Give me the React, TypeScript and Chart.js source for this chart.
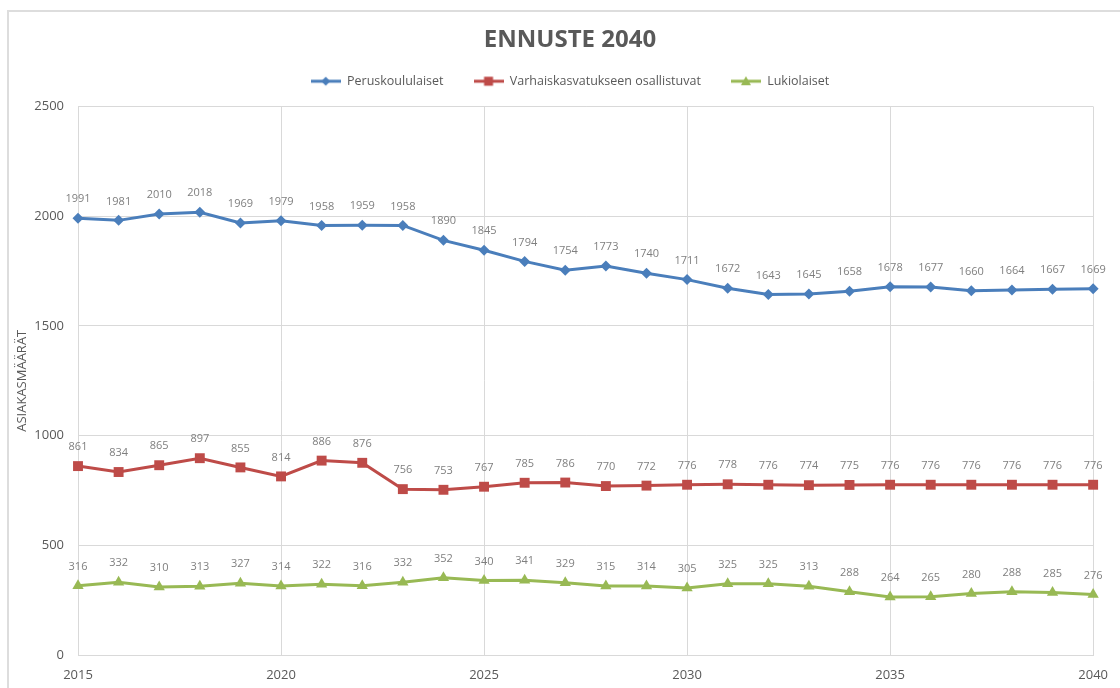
import React, { useEffect, useRef } from 'react';
import { Chart, registerables } from 'chart.js';

Chart.register(...registerables);

const chartTitle = 'ENNUSTE 2040';
const yAxisTitle = 'ASIAKASMÄÄRÄT';
const seriesNames = ['Peruskoululaiset', 'Varhaiskasvatukseen osallistuvat', 'Lukiolaiset'];
const years = [2015, 2016, 2017, 2018, 2019, 2020, 2021, 2022, 2023, 2024, 2025, 2026, 2027, 2028, 2029, 2030, 2031, 2032, 2033, 2034, 2035, 2036, 2037, 2038, 2039, 2040];
const peruskoululaiset = [1991, 1981, 2010, 2018, 1969, 1979, 1958, 1959, 1958, 1890, 1845, 1794, 1754, 1773, 1740, 1711, 1672, 1643, 1645, 1658, 1678, 1677, 1660, 1664, 1667, 1669];
const varhaiskasvatus = [861, 834, 865, 897, 855, 814, 886, 876, 756, 753, 767, 785, 786, 770, 772, 776, 778, 776, 774, 775, 776, 776, 776, 776, 776, 776];
const lukiolaiset = [316, 332, 310, 313, 327, 314, 322, 316, 332, 352, 340, 341, 329, 315, 314, 305, 325, 325, 313, 288, 264, 265, 280, 288, 285, 276];
const xTickValues = [2015, 2020, 2025, 2030, 2035, 2040];
const yTickValues = [0, 500, 1000, 1500, 2000, 2500];

const BLUE = '#4A7EBB';
const RED = '#BE4B48';
const GREEN = '#98B954';

function makeIcon(color: string, kind: string) {
  const c = document.createElement('canvas');
  c.width = 30;
  c.height = 14;
  const ctx = c.getContext('2d')!;
  ctx.strokeStyle = color;
  ctx.lineWidth = 3;
  ctx.beginPath();
  ctx.moveTo(0, 7);
  ctx.lineTo(30, 7);
  ctx.stroke();
  ctx.fillStyle = color;
  ctx.beginPath();
  if (kind === 'diamond') {
    ctx.moveTo(15, 2.5);
    ctx.lineTo(19.5, 7);
    ctx.lineTo(15, 11.5);
    ctx.lineTo(10.5, 7);
  } else if (kind === 'square') {
    ctx.rect(10.5, 2.5, 9, 9);
  } else {
    ctx.moveTo(15, 2);
    ctx.lineTo(20, 11);
    ctx.lineTo(10, 11);
  }
  ctx.closePath();
  ctx.fill();
  return c;
}

const pointLabelPlugin = {
  id: 'pointLabels',
  afterDatasetsDraw(chart: any) {
    const ctx = chart.ctx;
    ctx.save();
    ctx.font = '11px "Open Sans"';
    ctx.fillStyle = '#7F7F7F';
    ctx.textAlign = 'center';
    ctx.textBaseline = 'middle';
    chart.data.datasets.forEach((ds: any, i: number) => {
      const meta = chart.getDatasetMeta(i);
      meta.data.forEach((pt: any, j: number) => {
        ctx.fillText(String(ds.data[j].y), pt.x, pt.y - 19);
      });
    });
    ctx.restore();
  },
};

const framePlugin = {
  id: 'frame',
  beforeDraw(chart: any) {
    const ctx = chart.ctx;
    ctx.save();
    ctx.fillStyle = '#FFFFFF';
    ctx.fillRect(0, 0, chart.width, chart.height);
    ctx.strokeStyle = '#DDDDDD';
    ctx.lineWidth = 2;
    ctx.strokeRect(8, 11, chart.width + 20, chart.height + 20);
    ctx.restore();
  },
};

const headerShift = 21;

const legendSpacer = {
  id: 'legendSpacer',
  afterInit(chart: any) {
    const lg = chart.legend;
    if (lg && !lg.__patched) {
      const orig = lg.fit;
      lg.fit = function () {
        orig.call(this);
        this.height += 9;
      };
      lg.__patched = true;
    }
  },
  afterLayout(chart: any) {
    const tb = chart.titleBlock;
    if (tb) {
      tb.left += headerShift;
      tb.right += headerShift;
    }
    const lg = chart.legend;
    if (lg) {
      lg.left += headerShift;
      lg.right += headerShift;
    }
  },
};

export default function App() {
  const ref = useRef<HTMLCanvasElement>(null);

  useEffect(() => {
    const icons = [makeIcon(BLUE, 'diamond'), makeIcon(RED, 'square'), makeIcon(GREEN, 'triangle')];
    const toPoints = (vals: number[]) => years.map((yr, i) => ({ x: yr, y: vals[i] }));
    const chart = new Chart(ref.current!, {
      type: 'line',
      data: {
        datasets: [
          {
            label: seriesNames[0],
            data: toPoints(peruskoululaiset),
            borderColor: BLUE,
            backgroundColor: BLUE,
            borderWidth: 3,
            pointStyle: 'rectRot',
            pointRadius: 5.5,
            pointBorderWidth: 0,
            clip: false,
          },
          {
            label: seriesNames[1],
            data: toPoints(varhaiskasvatus),
            borderColor: RED,
            backgroundColor: RED,
            borderWidth: 3,
            pointStyle: 'rect',
            pointRadius: 7,
            pointBorderWidth: 0,
            clip: false,
          },
          {
            label: seriesNames[2],
            data: toPoints(lukiolaiset),
            borderColor: GREEN,
            backgroundColor: GREEN,
            borderWidth: 3,
            pointStyle: 'triangle',
            pointRadius: 6.5,
            pointBorderWidth: 0,
            clip: false,
          },
        ] as any,
      },
      options: {
        animation: false,
        responsive: false,
        devicePixelRatio: 1,
        layout: { padding: { left: 0, right: 22, top: 0, bottom: 0 } },
        plugins: {
          title: {
            display: true,
            text: chartTitle,
            color: '#595959',
            font: { family: '"Open Sans"', size: 24, weight: 'bold' },
            padding: { top: 25.6, bottom: -9.4 },
          },
          legend: {
            display: true,
            position: 'top',
            labels: {
              color: '#595959',
              font: { family: '"Open Sans"', size: 12.5 },
              usePointStyle: true,
              pointStyleWidth: 30,
              padding: 30,
              generateLabels: (ch: any) => {
                const items = (Chart.defaults.plugins.legend.labels as any).generateLabels(ch);
                return items.map((it: any, i: number) => ({ ...it, pointStyle: icons[i] }));
              },
            },
          },
          tooltip: { enabled: false },
        },
        scales: {
          x: {
            type: 'linear',
            min: 2015,
            max: 2040,
            afterBuildTicks: (s: any) => {
              s.ticks = xTickValues.map((v) => ({ value: v }));
            },
            afterFit: (s: any) => {
              s.height = 33;
            },
            ticks: {
              color: '#595959',
              font: { family: '"Open Sans"', size: 13 },
              padding: 12,
              maxRotation: 0,
              autoSkip: false,
              callback: (v: any) => String(v),
            },
            grid: { color: '#D9D9D9', lineWidth: 1, drawTicks: false },
            border: { display: true, color: '#D9D9D9' },
          },
          y: {
            min: 0,
            max: 2500,
            afterBuildTicks: (s: any) => {
              s.ticks = yTickValues.map((v) => ({ value: v }));
            },
            afterFit: (s: any) => {
              s.width = 78;
            },
            ticks: {
              color: '#595959',
              font: { family: '"Open Sans"', size: 13 },
              padding: 14,
              callback: (v: any) => String(v),
            },
            title: {
              display: true,
              text: yAxisTitle,
              color: '#595959',
              font: { family: '"Open Sans"', size: 13 },
              padding: { top: 14, bottom: 0 },
            },
            grid: { color: '#D9D9D9', lineWidth: 1, drawTicks: false },
            border: { display: true, color: '#D9D9D9' },
          },
        },
      } as any,
      plugins: [framePlugin, pointLabelPlugin, legendSpacer],
    });
    return () => chart.destroy();
  }, []);

  return (
    <div style={{ position: 'fixed', left: 0, top: 0, width: 1120, height: 688, background: '#fff' }}>
      <canvas ref={ref} width={1120} height={688} style={{ display: 'block', width: 1120, height: 688 }} />
    </div>
  );
}
